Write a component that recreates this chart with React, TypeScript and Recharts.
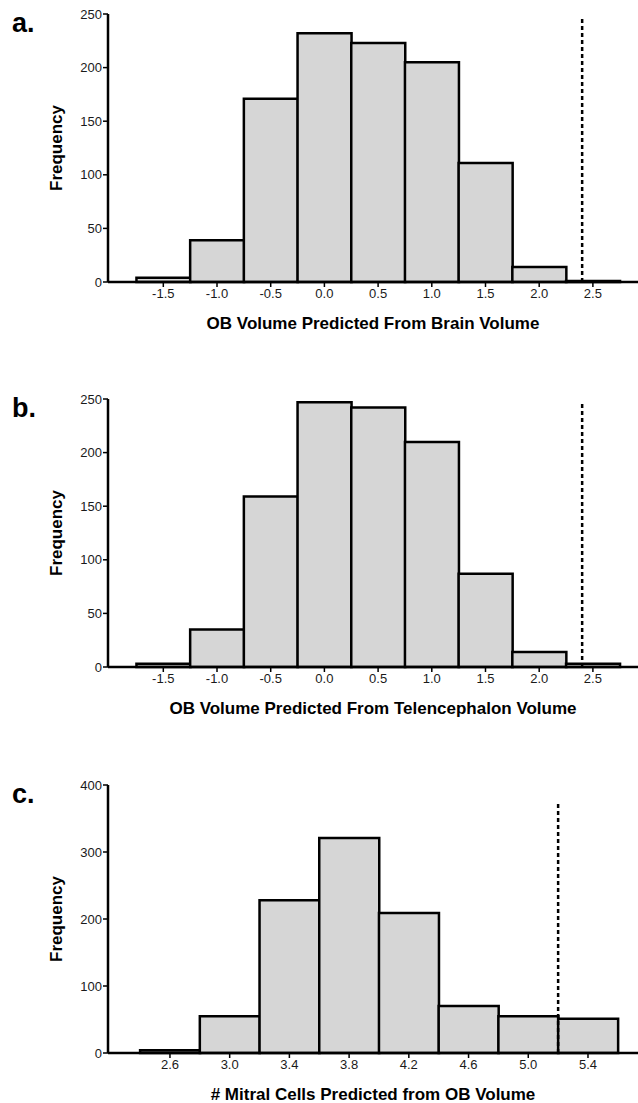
import React from "react";
import {
  ComposedChart,
  Bar,
  XAxis,
  YAxis,
  ReferenceLine,
  Label,
} from "recharts";

// bin centres and counts
const BINS_AB = [-1.5, -1.0, -0.5, 0.0, 0.5, 1.0, 1.5, 2.0, 2.5];
const FREQ_A = [4, 39, 171, 232, 223, 205, 111, 14, 1];
const FREQ_B = [3, 35, 159, 247, 242, 210, 87, 14, 3];
const BINS_C = [2.6, 3.0, 3.4, 3.8, 4.2, 4.6, 5.0, 5.4];
const FREQ_C = [4, 55, 228, 321, 209, 70, 55, 51];

const Y_TICKS_AB = [0, 50, 100, 150, 200, 250];
const Y_TICKS_C = [0, 100, 200, 300, 400];

const TITLE_A = "OB Volume Predicted From Brain Volume";
const TITLE_B = "OB Volume Predicted From Telencephalon Volume";
const TITLE_C = "# Mitral Cells Predicted from OB Volume";

const CUTOFF_AB = 2.4;
const CUTOFF_C = 5.2;

const tickFont = {
  fontFamily: "'Liberation Sans', Arial, sans-serif",
  fontSize: 13,
  fill: "#1a1a1a",
};
const titleFont = {
  fontFamily: "'Liberation Sans', Arial, sans-serif",
  fontSize: 17,
  fontWeight: 700,
  fill: "#000",
};

interface PanelProps {
  top: number;
  letter: string;
  bins: number[];
  freqs: number[];
  xDomain: [number, number];
  yTicks: number[];
  cutoff: number;
  cutoffTop: number;
  title: string;
}

function Panel({
  top,
  letter,
  bins,
  freqs,
  xDomain,
  yTicks,
  cutoff,
  cutoffTop,
  title,
}: PanelProps) {
  const data = bins.map((x, i) => ({ x, n: freqs[i] }));
  const yMax = yTicks[yTicks.length - 1];
  const plotH = 268;
  const axisH = 49;
  return (
    <div style={{ position: "absolute", left: 0, top, width: 638 }}>
      <div
        style={{
          position: "absolute",
          left: 12,
          top: 10,
          fontFamily: "'Liberation Sans', Arial, sans-serif",
          fontWeight: 700,
          fontSize: 27,
          lineHeight: "26px",
        }}
      >
        {letter}
      </div>
      <ComposedChart
        width={638}
        height={14 + plotH + axisH + 4}
        data={data}
        margin={{ top: 14, right: 0, bottom: 4, left: 0 }}
        barCategoryGap={0}
        barGap={0}
      >
        <XAxis
          dataKey="x"
          type="number"
          domain={xDomain}
          allowDataOverflow
          ticks={bins}
          interval={0}
          tickFormatter={(v: number) => v.toFixed(1)}
          height={axisH}
          axisLine={{ stroke: "#000", strokeWidth: 2.5 }}
          tickLine={{ stroke: "#000", strokeWidth: 1.5 }}
          tickSize={5}
          tick={tickFont}
        >
          <Label value={title} position="insideBottom" offset={2} style={titleFont} />
        </XAxis>
        <YAxis
          type="number"
          domain={[0, yMax]}
          ticks={yTicks}
          interval={0}
          width={108}
          axisLine={{ stroke: "#000", strokeWidth: 2.5 }}
          tickLine={{ stroke: "#000", strokeWidth: 1.5 }}
          tickSize={5}
          tickMargin={1}
          tick={tickFont}
        >
          <Label
            value="Frequency"
            angle={-90}
            position="center"
            dx={2}
            style={titleFont}
          />
        </YAxis>
        <Bar
          dataKey="n"
          fill="#d6d6d6"
          stroke="#000"
          strokeWidth={2.5}
          isAnimationActive={false}
        />
        <ReferenceLine
          segment={[
            { x: cutoff, y: 0 },
            { x: cutoff, y: cutoffTop },
          ]}
          stroke="#000"
          strokeWidth={2.5}
          strokeDasharray="4 3"
        />
      </ComposedChart>
    </div>
  );
}

export default function App() {
  return (
    <div
      style={{
        position: "absolute",
        left: 0,
        top: 0,
        width: 638,
        height: 1103,
        overflow: "hidden",
        background: "#fff",
      }}
    >
      <Panel
        top={0}
        letter="a."
        bins={BINS_AB}
        freqs={FREQ_A}
        xDomain={[-2.015, 2.92]}
        yTicks={Y_TICKS_AB}
        cutoff={CUTOFF_AB}
        cutoffTop={248}
        title={TITLE_A}
      />
      <Panel
        top={385}
        letter="b."
        bins={BINS_AB}
        freqs={FREQ_B}
        xDomain={[-2.015, 2.92]}
        yTicks={Y_TICKS_AB}
        cutoff={CUTOFF_AB}
        cutoffTop={247}
        title={TITLE_B}
      />
      <Panel
        top={771}
        letter="c."
        bins={BINS_C}
        freqs={FREQ_C}
        xDomain={[2.185, 5.735]}
        yTicks={Y_TICKS_C}
        cutoff={CUTOFF_C}
        cutoffTop={373}
        title={TITLE_C}
      />
    </div>
  );
}
